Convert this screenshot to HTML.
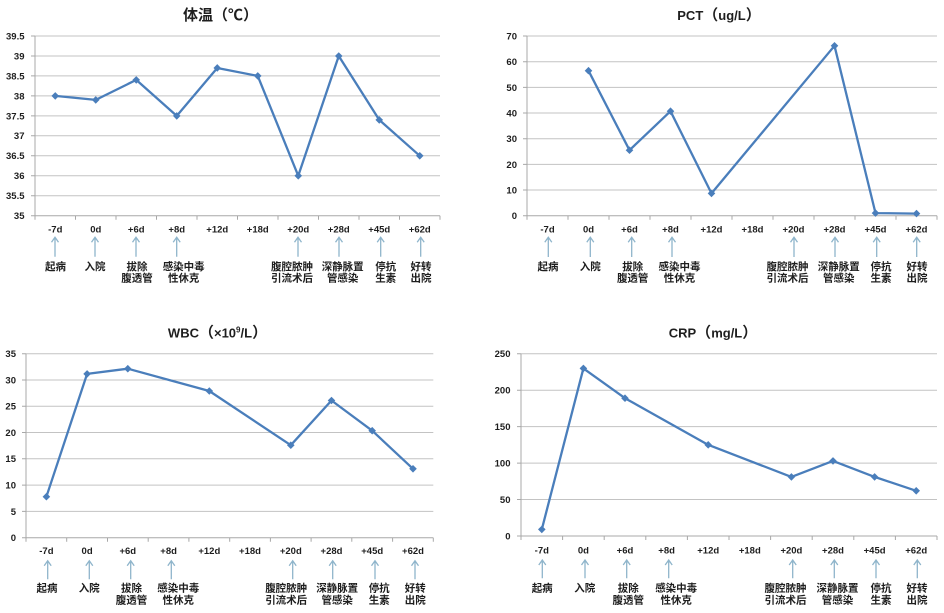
<!DOCTYPE html>
<html><head><meta charset="utf-8"><style>
html,body{margin:0;padding:0;background:#fff;}
svg{display:block;}
text{font-family:"Liberation Sans","Noto Sans CJK SC",sans-serif;fill:#1e1e1e;font-weight:bold;}
.t{font-size:15px;}
.lt{font-size:13px;}
.cj{font-family:"Noto Sans CJK SC",sans-serif;}
.y{font-size:9.5px;text-anchor:end;}
.x{font-size:9.5px;text-anchor:middle;}
.c{font-size:10.5px;text-anchor:middle;}
.g{stroke:#c3c3c3;stroke-width:1;fill:none;}
.a{stroke:#a8a8a8;stroke-width:1;fill:none;}
.s{stroke:#4a7ebb;stroke-width:2.3;fill:none;stroke-linejoin:round;}
.ar{stroke:#8fb5cb;stroke-width:1.3;fill:none;}
</style></head><body>
<svg width="944" height="613" viewBox="0 0 944 613" xmlns="http://www.w3.org/2000/svg">
<defs><path id="dm" d="M0,-3.8 L3.8,0 L0,3.8 L-3.8,0Z" fill="#4a7ebb"/></defs>

<!-- ================= Chart 1 ================= -->
<text class="t" x="220.5" y="20" text-anchor="middle">体温（<tspan class="cj">℃</tspan>）</text>
<path class="g" d="M35,195.7H440M35,175.8H440M35,155.8H440M35,135.8H440M35,115.9H440M35,95.9H440M35,75.9H440M35,56H440M35,36H440"/>
<path class="a" d="M35,36V215.7M35,215.7H440M31,215.7H35M31,195.7H35M31,175.8H35M31,155.8H35M31,135.8H35M31,115.9H35M31,95.9H35M31,75.9H35M31,56H35M31,36H35
M35,215.7v4M75.5,215.7v4M116,215.7v4M156.5,215.7v4M197,215.7v4M237.5,215.7v4M278,215.7v4M318.5,215.7v4M359,215.7v4M399.5,215.7v4M440,215.7v4"/>
<text class="y" x="24.5" y="219.1">35</text>
<text class="y" x="24.5" y="199.1">35.5</text>
<text class="y" x="24.5" y="179.2">36</text>
<text class="y" x="24.5" y="159.2">36.5</text>
<text class="y" x="24.5" y="139.2">37</text>
<text class="y" x="24.5" y="119.3">37.5</text>
<text class="y" x="24.5" y="99.3">38</text>
<text class="y" x="24.5" y="79.3">38.5</text>
<text class="y" x="24.5" y="59.4">39</text>
<text class="y" x="24.5" y="39.4">39.5</text>
<polyline class="s" points="55.25,95.9 95.75,99.9 136.25,79.9 176.75,115.9 217.25,67.95 257.75,75.9 298.25,175.8 338.75,56 379.25,119.9 419.75,155.8"/>
<use href="#dm" x="55.25" y="95.9"/><use href="#dm" x="95.75" y="99.9"/><use href="#dm" x="136.25" y="79.9"/><use href="#dm" x="176.75" y="115.9"/><use href="#dm" x="217.25" y="67.95"/><use href="#dm" x="257.75" y="75.9"/><use href="#dm" x="298.25" y="175.8"/><use href="#dm" x="338.75" y="56"/><use href="#dm" x="379.25" y="119.9"/><use href="#dm" x="419.75" y="155.8"/>
<text class="x" x="55.25" y="232.7">-7d</text><text class="x" x="95.75" y="232.7">0d</text><text class="x" x="136.25" y="232.7">+6d</text><text class="x" x="176.75" y="232.7">+8d</text><text class="x" x="217.25" y="232.7">+12d</text><text class="x" x="257.75" y="232.7">+18d</text><text class="x" x="298.25" y="232.7">+20d</text><text class="x" x="338.75" y="232.7">+28d</text><text class="x" x="379.25" y="232.7">+45d</text><text class="x" x="419.75" y="232.7">+62d</text>
<path class="ar" d="M55,256.7V237.3M51.5,242.3L55,237.3L58.5,242.3 M95,256.7V237.3M91.5,242.3L95,237.3L98.5,242.3 M136,256.7V237.3M132.5,242.3L136,237.3L139.5,242.3 M176.7,256.7V237.3M173.2,242.3L176.7,237.3L180.2,242.3 M298,256.7V237.3M294.5,242.3L298,237.3L301.5,242.3 M339,256.7V237.3M335.5,242.3L339,237.3L342.5,242.3 M380.7,256.7V237.3M377.2,242.3L380.7,237.3L384.2,242.3 M420.7,256.7V237.3M417.2,242.3L420.7,237.3L424.2,242.3"/>
<text class="c" x="55.5" y="270">起病</text>
<text class="c" x="95" y="270">入院</text>
<text class="c" x="137" y="270">拔除</text><text class="c" x="137" y="281.5">腹透管</text>
<text class="c" x="183.7" y="270">感染中毒</text><text class="c" x="183.7" y="281.5">性休克</text>
<text class="c" x="292" y="270">腹腔脓肿</text><text class="c" x="292" y="281.5">引流术后</text>
<text class="c" x="342.7" y="270">深静脉置</text><text class="c" x="342.7" y="281.5">管感染</text>
<text class="c" x="385.7" y="270">停抗</text><text class="c" x="385.7" y="281.5">生素</text>
<text class="c" x="421" y="270">好转</text><text class="c" x="421" y="281.5">出院</text>

<!-- ================= Chart 2 ================= -->
<text class="t" x="719" y="20" text-anchor="middle"><tspan class="lt">PCT</tspan>（<tspan class="lt">ug/L</tspan>）</text>
<path class="g" d="M527,190H937M527,164.4H937M527,138.7H937M527,113H937M527,87.35H937M527,61.7H937M527,36H937"/>
<path class="a" d="M527,36V215.7M527,215.7H937M523,215.7H527M523,190H527M523,164.4H527M523,138.7H527M523,113H527M523,87.35H527M523,61.7H527M523,36H527
M527,215.7v4M568,215.7v4M609,215.7v4M650,215.7v4M691,215.7v4M732,215.7v4M773,215.7v4M814,215.7v4M855,215.7v4M896,215.7v4M937,215.7v4"/>
<text class="y" x="517" y="219.1">0</text>
<text class="y" x="517" y="193.4">10</text>
<text class="y" x="517" y="167.8">20</text>
<text class="y" x="517" y="142.1">30</text>
<text class="y" x="517" y="116.4">40</text>
<text class="y" x="517" y="90.75">50</text>
<text class="y" x="517" y="65.1">60</text>
<text class="y" x="517" y="39.4">70</text>
<polyline class="s" points="588.5,70.7 629.5,150.2 670.5,111.2 711.5,193.4 834.5,45.8 875.5,213.1 916.5,213.6"/>
<use href="#dm" x="588.5" y="70.7"/><use href="#dm" x="629.5" y="150.2"/><use href="#dm" x="670.5" y="111.2"/><use href="#dm" x="711.5" y="193.4"/><use href="#dm" x="834.5" y="45.8"/><use href="#dm" x="875.5" y="213.1"/><use href="#dm" x="916.5" y="213.6"/>
<text class="x" x="547.5" y="232.7">-7d</text><text class="x" x="588.5" y="232.7">0d</text><text class="x" x="629.5" y="232.7">+6d</text><text class="x" x="670.5" y="232.7">+8d</text><text class="x" x="711.5" y="232.7">+12d</text><text class="x" x="752.5" y="232.7">+18d</text><text class="x" x="793.5" y="232.7">+20d</text><text class="x" x="834.5" y="232.7">+28d</text><text class="x" x="875.5" y="232.7">+45d</text><text class="x" x="916.5" y="232.7">+62d</text>
<path class="ar" d="M548.3,257V237.3M544.8,242.3L548.3,237.3L551.8,242.3 M590.3,257V237.3M586.8,242.3L590.3,237.3L593.8,242.3 M631.7,257V237.3M628.2,242.3L631.7,237.3L635.2,242.3 M672,257V237.3M668.5,242.3L672,237.3L675.5,242.3 M794,257V237.3M790.5,242.3L794,237.3L797.5,242.3 M835,257V237.3M831.5,242.3L835,237.3L838.5,242.3 M876.7,257V237.3M873.2,242.3L876.7,237.3L880.2,242.3 M916.7,257V237.3M913.2,242.3L916.7,237.3L920.2,242.3"/>
<text class="c" x="548" y="270">起病</text>
<text class="c" x="590.3" y="270">入院</text>
<text class="c" x="632.7" y="270">拔除</text><text class="c" x="632.7" y="281.5">腹透管</text>
<text class="c" x="679.5" y="270">感染中毒</text><text class="c" x="679.5" y="281.5">性休克</text>
<text class="c" x="787.5" y="270">腹腔脓肿</text><text class="c" x="787.5" y="281.5">引流术后</text>
<text class="c" x="838.8" y="270">深静脉置</text><text class="c" x="838.8" y="281.5">管感染</text>
<text class="c" x="881" y="270">停抗</text><text class="c" x="881" y="281.5">生素</text>
<text class="c" x="917" y="270">好转</text><text class="c" x="917" y="281.5">出院</text>

<!-- ================= Chart 3 ================= -->
<text class="t" x="217.5" y="337.5" text-anchor="middle"><tspan class="lt">WBC</tspan>（<tspan class="lt">×10</tspan><tspan font-size="8" dy="-5">9</tspan><tspan class="lt" dy="5">/L</tspan>）</text>
<path class="g" d="M26,511.4H433.3M26,485.1H433.3M26,458.8H433.3M26,432.5H433.3M26,406.3H433.3M26,380H433.3M26,353.7H433.3"/>
<path class="a" d="M26,353.7V537.7M26,537.7H433.3M22,537.7H26M22,511.4H26M22,485.1H26M22,458.8H26M22,432.5H26M22,406.3H26M22,380H26M22,353.7H26
M26,537.7v4M66.7,537.7v4M107.5,537.7v4M148.2,537.7v4M188.9,537.7v4M229.7,537.7v4M270.4,537.7v4M311.1,537.7v4M351.8,537.7v4M392.6,537.7v4M433.3,537.7v4"/>
<text class="y" x="16" y="541.1">0</text>
<text class="y" x="16" y="514.8">5</text>
<text class="y" x="16" y="488.5">10</text>
<text class="y" x="16" y="462.2">15</text>
<text class="y" x="16" y="435.9">20</text>
<text class="y" x="16" y="409.7">25</text>
<text class="y" x="16" y="383.4">30</text>
<text class="y" x="16" y="357.1">35</text>
<polyline class="s" points="46.4,496.7 87.1,373.9 127.8,368.7 209.3,391 290.8,445.2 331.5,400.5 372.2,430.7 413,468.8"/>
<use href="#dm" x="46.4" y="496.7"/><use href="#dm" x="87.1" y="373.9"/><use href="#dm" x="127.8" y="368.7"/><use href="#dm" x="209.3" y="391"/><use href="#dm" x="290.8" y="445.2"/><use href="#dm" x="331.5" y="400.5"/><use href="#dm" x="372.2" y="430.7"/><use href="#dm" x="413" y="468.8"/>
<text class="x" x="46.4" y="554.1">-7d</text><text class="x" x="87.1" y="554.1">0d</text><text class="x" x="127.8" y="554.1">+6d</text><text class="x" x="168.6" y="554.1">+8d</text><text class="x" x="209.3" y="554.1">+12d</text><text class="x" x="250" y="554.1">+18d</text><text class="x" x="290.8" y="554.1">+20d</text><text class="x" x="331.5" y="554.1">+28d</text><text class="x" x="372.2" y="554.1">+45d</text><text class="x" x="413" y="554.1">+62d</text>
<path class="ar" d="M47.7,579.3V560.7M44.2,565.7L47.7,560.7L51.2,565.7 M89.3,579.3V560.7M85.8,565.7L89.3,560.7L92.8,565.7 M130.7,579.3V560.7M127.2,565.7L130.7,560.7L134.2,565.7 M171.3,579.3V560.7M167.8,565.7L171.3,560.7L174.8,565.7 M292.7,579.3V560.7M289.2,565.7L292.7,560.7L296.2,565.7 M332.7,579.3V560.7M329.2,565.7L332.7,560.7L336.2,565.7 M375,579.3V560.7M371.5,565.7L375,560.7L378.5,565.7 M415,579.3V560.7M411.5,565.7L415,560.7L418.5,565.7"/>
<text class="c" x="47" y="591.7">起病</text>
<text class="c" x="89.2" y="591.7">入院</text>
<text class="c" x="131.5" y="591.7">拔除</text><text class="c" x="131.5" y="603.3">腹透管</text>
<text class="c" x="178.3" y="591.7">感染中毒</text><text class="c" x="178.3" y="603.3">性休克</text>
<text class="c" x="286.2" y="591.7">腹腔脓肿</text><text class="c" x="286.2" y="603.3">引流术后</text>
<text class="c" x="337.2" y="591.7">深静脉置</text><text class="c" x="337.2" y="603.3">管感染</text>
<text class="c" x="379.2" y="591.7">停抗</text><text class="c" x="379.2" y="603.3">生素</text>
<text class="c" x="415.3" y="591.7">好转</text><text class="c" x="415.3" y="603.3">出院</text>

<!-- ================= Chart 4 ================= -->
<text class="t" x="713" y="337.5" text-anchor="middle"><tspan class="lt">CRP</tspan>（<tspan class="lt">mg/L</tspan>）</text>
<path class="g" d="M521,499.5H937M521,463.1H937M521,426.6H937M521,390.2H937M521,353.7H937"/>
<path class="a" d="M521,353.7V536M521,536H937M517,536H521M517,499.5H521M517,463.1H521M517,426.6H521M517,390.2H521M517,353.7H521
M521,536v4M562.6,536v4M604.2,536v4M645.8,536v4M687.4,536v4M729,536v4M770.6,536v4M812.2,536v4M853.8,536v4M895.4,536v4M937,536v4"/>
<text class="y" x="510.5" y="539.4">0</text>
<text class="y" x="510.5" y="502.9">50</text>
<text class="y" x="510.5" y="466.5">100</text>
<text class="y" x="510.5" y="430">150</text>
<text class="y" x="510.5" y="393.6">200</text>
<text class="y" x="510.5" y="357.1">250</text>
<polyline class="s" points="541.8,529.4 583.4,368.4 625,398.2 708.2,444.85 791.4,476.9 833,460.9 874.6,476.9 916.2,490.8"/>
<use href="#dm" x="541.8" y="529.4"/><use href="#dm" x="583.4" y="368.4"/><use href="#dm" x="625" y="398.2"/><use href="#dm" x="708.2" y="444.85"/><use href="#dm" x="791.4" y="476.9"/><use href="#dm" x="833" y="460.9"/><use href="#dm" x="874.6" y="476.9"/><use href="#dm" x="916.2" y="490.8"/>
<text class="x" x="541.8" y="553.4">-7d</text><text class="x" x="583.4" y="553.4">0d</text><text class="x" x="625" y="553.4">+6d</text><text class="x" x="666.6" y="553.4">+8d</text><text class="x" x="708.2" y="553.4">+12d</text><text class="x" x="749.8" y="553.4">+18d</text><text class="x" x="791.4" y="553.4">+20d</text><text class="x" x="833" y="553.4">+28d</text><text class="x" x="874.6" y="553.4">+45d</text><text class="x" x="916.2" y="553.4">+62d</text>
<path class="ar" d="M542.3,578.3V560M538.8,565L542.3,560L545.8,565 M585,578.3V560M581.5,565L585,560L588.5,565 M626.7,578.3V560M623.2,565L626.7,560L630.2,565 M668.7,578.3V560M665.2,565L668.7,560L672.2,565 M792.7,578.3V560M789.2,565L792.7,560L796.2,565 M834.3,578.3V560M830.8,565L834.3,560L837.8,565 M876,578.3V560M872.5,565L876,560L879.5,565 M917.3,578.3V560M913.8,565L917.3,560L920.8,565"/>
<text class="c" x="542.2" y="591.3">起病</text>
<text class="c" x="584.8" y="591.3">入院</text>
<text class="c" x="628.3" y="591.3">拔除</text><text class="c" x="628.3" y="603.3">腹透管</text>
<text class="c" x="676.2" y="591.3">感染中毒</text><text class="c" x="676.2" y="603.3">性休克</text>
<text class="c" x="785.5" y="591.3">腹腔脓肿</text><text class="c" x="785.5" y="603.3">引流术后</text>
<text class="c" x="837.5" y="591.3">深静脉置</text><text class="c" x="837.5" y="603.3">管感染</text>
<text class="c" x="881" y="591.3">停抗</text><text class="c" x="881" y="603.3">生素</text>
<text class="c" x="917" y="591.3">好转</text><text class="c" x="917" y="603.3">出院</text>
</svg>
</body></html>
